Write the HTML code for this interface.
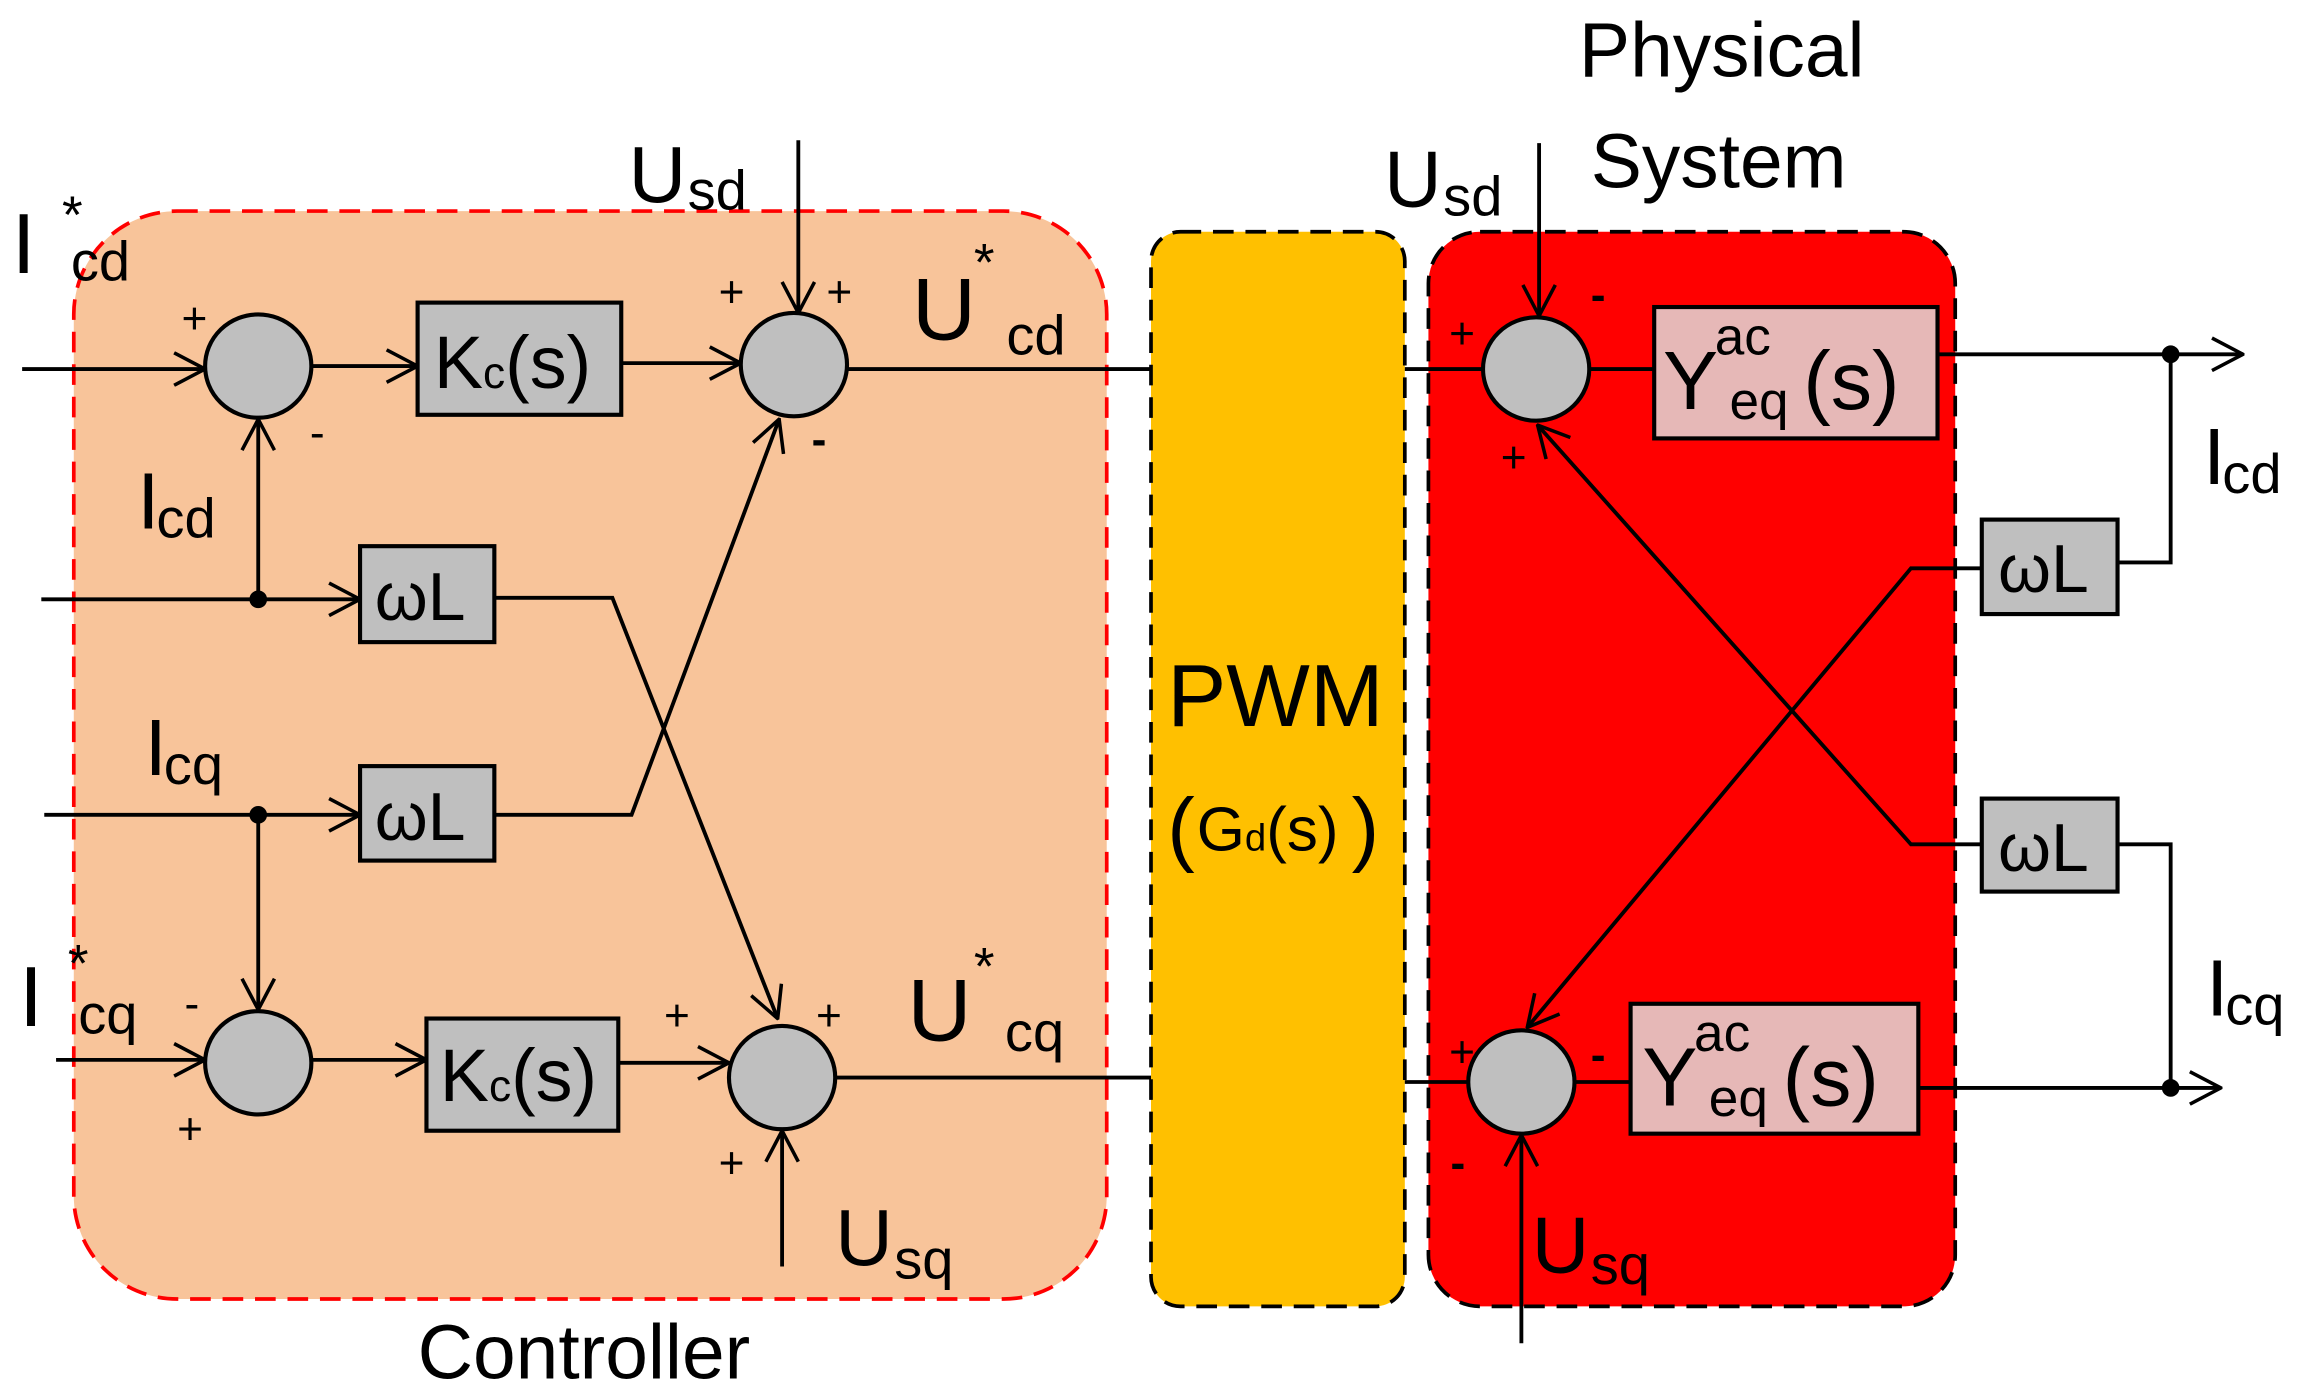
<!DOCTYPE html>
<html><head><meta charset="utf-8"><style>html,body{margin:0;padding:0;background:#fff}svg{display:block}text{font-family:"Liberation Sans",sans-serif;fill:#000}</style></head><body>
<svg width="2302" height="1392" viewBox="0 0 1560 943" preserveAspectRatio="none" xmlns="http://www.w3.org/2000/svg">
<defs>
<marker id="a" viewBox="0 0 24 24" refX="23" refY="12" markerWidth="24" markerHeight="24" markerUnits="userSpaceOnUse" orient="auto"><path d="M2 1 L23 12 L2 23" fill="none" stroke="#000" stroke-width="2.4"/></marker>
</defs>
<rect x="50" y="143" width="700" height="737" rx="70" fill="#F8C49A" stroke="#f00" stroke-width="2.5" stroke-dasharray="14 8"/>
<rect x="780" y="157" width="172" height="728" rx="20" fill="#FFC000" stroke="#000" stroke-width="2.5" stroke-dasharray="14 8"/>
<rect x="968" y="157" width="357" height="728" rx="35" fill="#FF0000" stroke="#000" stroke-width="2.5" stroke-dasharray="14 8"/>
<g stroke="#000" stroke-width="2.6" fill="none">
<line x1="15" y1="250" x2="139" y2="250" marker-end="url(#a)"/>
<line x1="211" y1="248" x2="283" y2="248" marker-end="url(#a)"/>
<line x1="421" y1="246" x2="502" y2="246" marker-end="url(#a)"/>
<line x1="574" y1="250" x2="780" y2="250"/>
<line x1="28" y1="406" x2="244" y2="406" marker-end="url(#a)"/>
<line x1="175" y1="406" x2="175" y2="284" marker-end="url(#a)"/>
<polyline points="335,405 415,405 527,690" marker-end="url(#a)"/>
<line x1="30" y1="552" x2="244" y2="552" marker-end="url(#a)"/>
<line x1="175" y1="552" x2="175" y2="684" marker-end="url(#a)"/>
<polyline points="335,552 428,552 528,284" marker-end="url(#a)"/>
<line x1="38" y1="718" x2="139" y2="718" marker-end="url(#a)"/>
<line x1="211" y1="718" x2="289" y2="718" marker-end="url(#a)"/>
<line x1="419" y1="720" x2="494" y2="720" marker-end="url(#a)"/>
<line x1="566" y1="730" x2="780" y2="730"/>
<line x1="541" y1="95" x2="541" y2="212" marker-end="url(#a)"/>
<line x1="530" y1="858" x2="530" y2="766" marker-end="url(#a)"/>
<line x1="952" y1="250" x2="1005" y2="250"/>
<line x1="1077" y1="250" x2="1121" y2="250"/>
<line x1="1313" y1="240" x2="1520" y2="240" marker-end="url(#a)"/>
<polyline points="1471,240 1471,381 1435,381"/>
<polyline points="1343,385 1295,385 1035,696" marker-end="url(#a)"/>
<line x1="1031" y1="910" x2="1031" y2="769" marker-end="url(#a)"/>
<line x1="1043" y1="97" x2="1043" y2="214" marker-end="url(#a)"/>
<polyline points="1343,572 1295,572 1042,288" marker-end="url(#a)"/>
<polyline points="1435,572 1471,572 1471,737"/>
<line x1="1300" y1="737" x2="1505" y2="737" marker-end="url(#a)"/>
<line x1="1067" y1="733" x2="1105" y2="733"/>
<line x1="952" y1="733" x2="995" y2="733"/>
</g>
<g fill="#000"><circle cx="175" cy="406" r="6"/><circle cx="175" cy="552" r="6"/><circle cx="1471" cy="240" r="6"/><circle cx="1471" cy="737" r="6"/></g>
<g fill="#BFBFBF" stroke="#000" stroke-width="2.8">
<ellipse cx="175" cy="248" rx="36" ry="35"/><ellipse cx="538" cy="247" rx="36" ry="35"/>
<ellipse cx="175" cy="720" rx="36" ry="35"/><ellipse cx="530" cy="730" rx="36" ry="35"/>
<ellipse cx="1041" cy="250" rx="36" ry="35"/><ellipse cx="1031" cy="733" rx="36" ry="35"/>
<rect x="283" y="205" width="138" height="76"/><rect x="289" y="690" width="130" height="76"/>
<rect x="244" y="370" width="91" height="65"/><rect x="244" y="519" width="91" height="64"/>
<rect x="1343" y="352" width="92" height="64"/><rect x="1343" y="541" width="92" height="63"/>
<rect x="1121" y="208" width="192" height="89" fill="#E6B8B7"/><rect x="1105" y="680" width="195" height="88" fill="#E6B8B7"/>
</g>
<g font-size="50">
<text x="294" y="263">K<tspan font-size="30">c</tspan>(s)</text>
<text x="298" y="746">K<tspan font-size="30">c</tspan>(s)</text>
</g>
<g font-size="46">
<text x="254" y="420">ωL</text><text x="254" y="569">ωL</text>
<text x="1354" y="401">ωL</text><text x="1354" y="590">ωL</text>
</g>
<text x="1127" y="277" font-size="56">Y</text><text x="1162" y="240" font-size="36">ac</text><text x="1172" y="284" font-size="36">eq</text><text x="1222" y="277" font-size="56">(s)</text>
<text x="1113" y="749" font-size="56">Y</text><text x="1148" y="712" font-size="36">ac</text><text x="1158" y="756" font-size="36">eq</text><text x="1208" y="749" font-size="56">(s)</text>
<g font-size="30">
<text x="123" y="226">+</text><text x="210" y="303">-</text>
<text x="487" y="208">+</text><text x="560" y="208">+</text><text x="550" y="308" font-weight="bold">-</text>
<text x="125" y="690">-</text><text x="120" y="775">+</text>
<text x="450" y="698">+</text><text x="553" y="698">+</text><text x="487" y="798">+</text>
<text x="982" y="236">+</text><text x="1078" y="210" font-weight="bold">-</text><text x="1017" y="320">+</text>
<text x="982" y="723">+</text><text x="1078" y="725" font-weight="bold">-</text><text x="983" y="798" font-weight="bold">-</text>
</g>
<text x="8" y="185" font-size="58">I</text><text x="42" y="158" font-size="36">*</text><text x="48" y="190" font-size="38">cd</text>
<text x="426" y="137" font-size="54">U</text><text x="466" y="142" font-size="38">sd</text>
<text x="618" y="230" font-size="60">U</text><text x="660" y="190" font-size="36">*</text><text x="682" y="240" font-size="38">cd</text>
<text x="93" y="358" font-size="54">I</text><text x="106" y="364" font-size="38">cd</text>
<text x="98" y="525" font-size="54">I</text><text x="111" y="531" font-size="38">cq</text>
<text x="13" y="695" font-size="58">I</text><text x="46" y="665" font-size="36">*</text><text x="53" y="700" font-size="38">cq</text>
<text x="615" y="705" font-size="60">U</text><text x="660" y="667" font-size="36">*</text><text x="681" y="712" font-size="38">cq</text>
<text x="566" y="857" font-size="54">U</text><text x="606" y="866" font-size="38">sq</text>
<text x="283" y="934" font-size="52">Controller</text>
<text x="791" y="492" font-size="60">PWM</text>
<text x="791" y="580" font-size="56">(</text><text x="811" y="576" font-size="42">G<tspan font-size="26">d</tspan>(s)</text><text x="916" y="580" font-size="56">)</text>
<text x="1070" y="52" font-size="52">Physical</text><text x="1078" y="127" font-size="52">System</text>
<text x="938" y="140" font-size="54">U</text><text x="978" y="146" font-size="38">sd</text>
<text x="1038" y="862" font-size="54">U</text><text x="1078" y="870" font-size="38">sq</text>
<text x="1493" y="328" font-size="54">I</text><text x="1506" y="334" font-size="38">cd</text>
<text x="1495" y="688" font-size="54">I</text><text x="1508" y="694" font-size="38">cq</text>
</svg>
</body></html>
